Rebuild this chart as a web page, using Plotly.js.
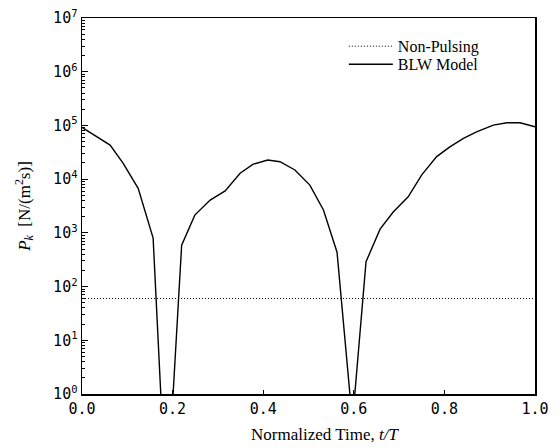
<!DOCTYPE html>
<html>
<head>
<meta charset="utf-8">
<script src="https://cdn.plot.ly/plotly-3.0.1.min.js"></script>
<style>html,body{margin:0;padding:0;background:#fff;}#chart{width:560px;height:448px;}</style>
</head>
<body>
<div id="chart"></div>
<script>
// Normalized time t/T and BLW model P_k values
var tNorm = [0, 0.062, 0.091, 0.124, 0.157, 0.178, 0.197, 0.220, 0.249, 0.283, 0.316, 0.349, 0.378, 0.410, 0.437, 0.470, 0.503, 0.533, 0.563, 0.597, 0.627, 0.658, 0.687, 0.720, 0.750, 0.783, 0.812, 0.842, 0.871, 0.908, 0.938, 0.967, 1.0];
var pkBLW = [92000, 43000, 19700, 6750, 800, 0.2, 0.25, 590, 2140, 4070, 6030, 12900, 19000, 22700, 21100, 14800, 7760, 2660, 437, 0.3, 290, 1175, 2450, 4680, 12000, 26300, 39800, 57500, 75900, 101600, 112000, 112000, 94600];

// Non-pulsing constant level
var tNonPulsing = [0, 1];
var pkNonPulsing = [60, 60];

// Tick labels and titles
var yTickVals = [1, 10, 100, 1000, 10000, 100000, 1000000, 10000000];
var yTickText = ["10<sup>0</sup>", "10<sup>1</sup>", "10<sup>2</sup>", "10<sup>3</sup>", "10<sup>4</sup>", "10<sup>5</sup>", "10<sup>6</sup>", "10<sup>7</sup>"];
var xTickVals = [0, 0.2, 0.4, 0.6, 0.8, 1.0];
var xTickText = ["0.0", "0.2", "0.4", "0.6", "0.8", "1.0"];
var xTitle = 'Normalized Time, <i>t/T</i>';
var yTitle = '<i>P</i><sub><i>k</i></sub>  [N/(m<sup>2</sup>s)]';

var yMinorVals = [];
for (var d = 0; d < 7; d++) {
  for (var k = 2; k <= 9; k++) yMinorVals.push(k * Math.pow(10, d));
}

var serif = '"Liberation Serif", "Times New Roman", serif';
var mono = '"DejaVu Sans Mono", monospace';

var traces = [
  {x: tNonPulsing, y: pkNonPulsing, mode: 'lines', name: 'Non-Pulsing', legend: 'legend',
   line: {color: '#000', width: 1, dash: '1px,2px'}},
  {x: tNorm, y: pkBLW, mode: 'lines', name: 'BLW Model', legend: 'legend2',
   line: {color: '#000', width: 1.4}}
];

var legendFont = {family: serif, size: 16, color: '#000'};

var layout = {
  width: 560, height: 448,
  margin: {l: 82, r: 25, t: 18, b: 54},
  paper_bgcolor: '#fff', plot_bgcolor: '#fff',
  showlegend: true,
  legend: {x: 0.578, y: 0.970, xanchor: 'left', yanchor: 'top',
           bgcolor: 'rgba(0,0,0,0)', itemwidth: 44, font: legendFont},
  legend2: {x: 0.578, y: 0.922, xanchor: 'left', yanchor: 'top',
           bgcolor: 'rgba(0,0,0,0)', itemwidth: 44, font: legendFont},
  xaxis: {
    range: [0, 1], tickmode: 'array', tickvals: xTickVals, ticktext: xTickText,
    ticks: 'inside', ticklen: 4, tickcolor: '#000',
    showline: true, mirror: true, linecolor: '#000', linewidth: 1.5,
    showgrid: false, zeroline: false,
    tickfont: {family: mono, size: 15, color: '#000'}
  },
  yaxis: {
    type: 'log', range: [0, 7], tickmode: 'array', tickvals: yTickVals, ticktext: yTickText,
    ticks: 'inside', ticklen: 6, tickcolor: '#000',
    minor: {tickmode: 'array', tickvals: yMinorVals, ticks: 'inside', ticklen: 3, tickcolor: '#000', showgrid: false},
    showline: true, mirror: true, linecolor: '#000', linewidth: 1.5,
    showgrid: false, zeroline: false,
    tickfont: {family: mono, size: 15, color: '#000'},
    title: {text: yTitle, font: {family: serif, size: 17, color: '#000'}, standoff: 18}
  },
  annotations: [
    {text: xTitle, xref: 'paper', yref: 'paper', x: 0.536, y: -0.109,
     xanchor: 'center', yanchor: 'middle', showarrow: false,
     font: {family: serif, size: 17, color: '#000'}}
  ]
};

Plotly.newPlot('chart', traces, layout, {displayModeBar: false, staticPlot: true});
</script>
</body>
</html>
